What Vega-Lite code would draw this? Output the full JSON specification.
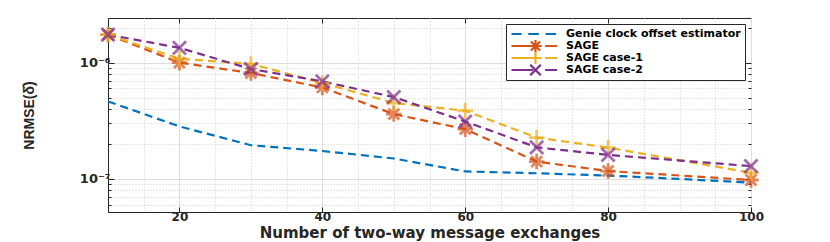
{
  "$schema": "https://vega.github.io/schema/vega-lite/v6.json",
  "autosize": {"type": "none"},
  "padding": {"left": 108, "top": 18, "right": 79, "bottom": 30},
  "width": 643,
  "height": 194,
  "background": "white",
  "config": {
    "view": {"stroke": "#262626", "strokeWidth": 1},
    "font": "DejaVu Sans"
  },
  "data": {
    "values": [
      {"n": 10, "series": "Genie clock offset estimator", "v": 4.64e-7},
      {"n": 20, "series": "Genie clock offset estimator", "v": 2.83e-7},
      {"n": 30, "series": "Genie clock offset estimator", "v": 1.95e-7},
      {"n": 40, "series": "Genie clock offset estimator", "v": 1.74e-7},
      {"n": 50, "series": "Genie clock offset estimator", "v": 1.5e-7},
      {"n": 60, "series": "Genie clock offset estimator", "v": 1.16e-7},
      {"n": 70, "series": "Genie clock offset estimator", "v": 1.12e-7},
      {"n": 80, "series": "Genie clock offset estimator", "v": 1.07e-7},
      {"n": 90, "series": "Genie clock offset estimator", "v": 1.0e-7},
      {"n": 100, "series": "Genie clock offset estimator", "v": 9.3e-8},
      {"n": 10, "series": "SAGE", "v": 1.74e-6},
      {"n": 20, "series": "SAGE", "v": 1.0e-6},
      {"n": 30, "series": "SAGE", "v": 8.15e-7},
      {"n": 40, "series": "SAGE", "v": 6.12e-7},
      {"n": 50, "series": "SAGE", "v": 3.61e-7},
      {"n": 60, "series": "SAGE", "v": 2.68e-7},
      {"n": 70, "series": "SAGE", "v": 1.41e-7},
      {"n": 80, "series": "SAGE", "v": 1.17e-7},
      {"n": 100, "series": "SAGE", "v": 9.8e-8},
      {"n": 10, "series": "SAGE case-1", "v": 1.74e-6},
      {"n": 20, "series": "SAGE case-1", "v": 1.08e-6},
      {"n": 30, "series": "SAGE case-1", "v": 9.75e-7},
      {"n": 40, "series": "SAGE case-1", "v": 6.68e-7},
      {"n": 50, "series": "SAGE case-1", "v": 4.5e-7},
      {"n": 60, "series": "SAGE case-1", "v": 3.86e-7},
      {"n": 70, "series": "SAGE case-1", "v": 2.27e-7},
      {"n": 80, "series": "SAGE case-1", "v": 1.86e-7},
      {"n": 100, "series": "SAGE case-1", "v": 1.13e-7},
      {"n": 10, "series": "SAGE case-2", "v": 1.74e-6},
      {"n": 20, "series": "SAGE case-2", "v": 1.34e-6},
      {"n": 30, "series": "SAGE case-2", "v": 8.82e-7},
      {"n": 40, "series": "SAGE case-2", "v": 6.9e-7},
      {"n": 50, "series": "SAGE case-2", "v": 5.06e-7},
      {"n": 60, "series": "SAGE case-2", "v": 3.12e-7},
      {"n": 70, "series": "SAGE case-2", "v": 1.87e-7},
      {"n": 80, "series": "SAGE case-2", "v": 1.61e-7},
      {"n": 100, "series": "SAGE case-2", "v": 1.29e-7}
    ]
  },
  "resolve": {"axis": {"x": "independent", "y": "independent"}},
  "layer": [
    {
      "mark": {"type": "line", "strokeWidth": 2.2, "strokeDash": [8, 5], "clip": true},
      "encoding": {
        "x": {
          "field": "n", "type": "quantitative",
          "scale": {"domain": [10, 100], "nice": false, "zero": false},
          "axis": {
            "orient": "bottom",
            "values": [10, 15, 20, 25, 30, 35, 40, 45, 50, 55, 60, 65, 70, 75, 80, 85, 90, 95, 100],
            "labelExpr": "datum.value % 20 == 0 ? datum.label : ''",
            "grid": true,
            "gridColor": {"condition": {"test": "datum.value % 20 == 0", "value": "#dedede"}, "value": "#cfcfcf"},
            "gridDash": {"condition": {"test": "datum.value % 20 == 0", "value": []}, "value": [1, 2]},
            "tickOpacity": {"condition": {"test": "datum.value % 20 == 0", "value": 1}, "value": 0},
            "tickSize": -5,
            "tickColor": "#262626",
            "domainColor": "#262626",
            "labelFlush": false,
            "labelFont": "DejaVu Sans",
            "labelFontWeight": "bold",
            "labelFontSize": 12,
            "labelColor": "#262626",
            "labelPadding": 4,
            "title": "Number of two-way message exchanges",
            "titleFont": "DejaVu Sans",
            "titleFontWeight": "bold",
            "titleFontSize": 15,
            "titleColor": "#262626",
            "titleBaseline": "alphabetic",
            "titleY": 25
          }
        },
        "y": {
          "field": "v", "type": "quantitative",
          "scale": {"type": "log", "domain": [5.2e-8, 2.42e-6], "nice": false},
          "axis": {
            "orient": "left",
            "values": [6e-8, 7e-8, 8e-8, 9e-8, 1e-7, 2e-7, 3e-7, 4e-7, 5e-7, 6e-7, 7e-7, 8e-7, 9e-7, 1e-6, 2e-6],
            "labelExpr": "datum.value == 1e-6 ? '10⁻⁶' : (datum.value == 1e-7 ? '10⁻⁷' : '')",
            "grid": true,
            "gridColor": {"condition": {"test": "abs(log(datum.value)/LN10 - round(log(datum.value)/LN10)) < 0.001", "value": "#dedede"}, "value": "#cfcfcf"},
            "gridDash": {"condition": {"test": "abs(log(datum.value)/LN10 - round(log(datum.value)/LN10)) < 0.001", "value": []}, "value": [1, 2]},
            "tickSize": {"condition": {"test": "abs(log(datum.value)/LN10 - round(log(datum.value)/LN10)) < 0.001", "value": -6}, "value": -3},
            "tickColor": "#262626",
            "domainColor": "#262626",
            "labelFont": "DejaVu Sans",
            "labelFontWeight": "bold",
            "labelFontSize": 13,
            "labelColor": "#262626",
            "labelPadding": 4,
            "title": "NRMSE(δ̂)",
            "titleFont": "Liberation Sans",
            "titleFontWeight": "bold",
            "titleFontSize": 14,
            "titleColor": "#262626",
            "titleX": -72
          }
        },
        "color": {
          "field": "series", "type": "nominal",
          "scale": {
            "domain": ["Genie clock offset estimator", "SAGE", "SAGE case-1", "SAGE case-2"],
            "range": ["#0072BD", "#D95319", "#EDB120", "#7E2F8E"]
          },
          "legend": {
            "orient": "top-right",
            "offset": 6,
            "title": null,
            "padding": 4,
            "strokeColor": "#262626",
            "fillColor": "white",
            "cornerRadius": 0,
            "labelFont": "DejaVu Sans",
            "labelFontWeight": "bold",
            "labelFontSize": 11,
            "labelColor": "#000000",
            "labelOffset": 5,
            "labelLimit": 400,
            "symbolSize": 2304,
            "symbolStrokeWidth": 2.2,
            "symbolType": "stroke",
            "clipHeight": 12,
            "rowPadding": 0,
            "encode": {
              "symbols": {
                "update": {
                  "size": {"value": 2304},
                  "strokeWidth": {"value": 2.2},
                  "strokeDash": {"value": []},
                  "fill": {"value": "transparent"},
                  "shape": {"signal": "datum.value === 'Genie clock offset estimator' ? 'M-1,0H-0.58M-0.3,0H0.14M0.42,0H0.86' : (datum.value === 'SAGE' ? 'M-1,0H-0.1M0,-0.26V0.26M-0.26,0H0.26M-0.19,-0.19L0.19,0.19M-0.19,0.19L0.19,-0.19M0.4,0H0.9' : (datum.value === 'SAGE case-1' ? 'M-1,0H-0.1M0,-0.26V0.26M-0.26,0H0.26M0.4,0H0.9' : 'M-1,0H-0.1M-0.22,-0.22L0.22,0.22M-0.22,0.22L0.22,-0.22M0.4,0H0.9'))"}
                }
              }
            }
          }
        },
        "detail": {"field": "series"}
      }
    },
    {
      "transform": [{"filter": "datum.series == 'SAGE'"}],
      "mark": {"type": "point", "filled": false, "strokeWidth": 2.8, "size": 240, "color": "#D95319", "shape": "M0,-1V1M-1,0H1M-0.7,-0.7L0.7,0.7M-0.7,0.7L0.7,-0.7"},
      "encoding": {
        "x": {
          "field": "n", "type": "quantitative",
          "axis": {
            "orient": "top",
            "values": [20, 40, 60, 80],
            "labels": false, "grid": false, "domain": false, "title": null,
            "tickSize": -5, "tickColor": "#262626"
          }
        },
        "y": {
          "field": "v", "type": "quantitative",
          "axis": {
            "orient": "right",
            "values": [6e-8, 7e-8, 8e-8, 9e-8, 1e-7, 2e-7, 3e-7, 4e-7, 5e-7, 6e-7, 7e-7, 8e-7, 9e-7, 1e-6, 2e-6],
            "labels": false, "grid": false, "domain": false, "title": null,
            "tickSize": {"condition": {"test": "abs(log(datum.value)/LN10 - round(log(datum.value)/LN10)) < 0.001", "value": -6}, "value": -3},
            "tickColor": "#262626"
          }
        }
      }
    },
    {
      "transform": [{"filter": "datum.series == 'SAGE case-1'"}],
      "mark": {"type": "point", "filled": false, "strokeWidth": 2.8, "size": 240, "color": "#EDB120", "shape": "M0,-1V1M-1,0H1"},
      "encoding": {
        "x": {"field": "n", "type": "quantitative", "axis": null},
        "y": {"field": "v", "type": "quantitative", "axis": null}
      }
    },
    {
      "transform": [{"filter": "datum.series == 'SAGE case-2'"}],
      "mark": {"type": "point", "filled": false, "strokeWidth": 2.8, "size": 240, "color": "#7E2F8E", "shape": "M-0.85,-0.85L0.85,0.85M-0.85,0.85L0.85,-0.85"},
      "encoding": {
        "x": {"field": "n", "type": "quantitative", "axis": null},
        "y": {"field": "v", "type": "quantitative", "axis": null}
      }
    }
  ]
}
